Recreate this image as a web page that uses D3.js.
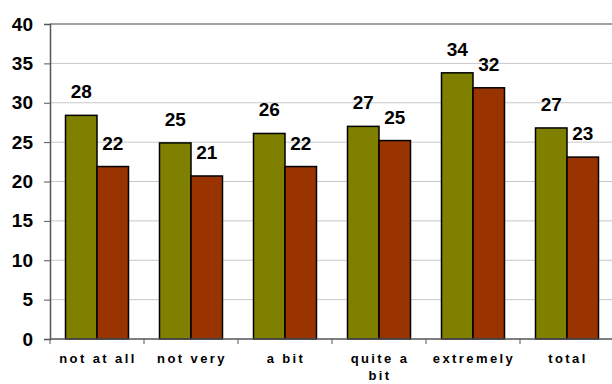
<!DOCTYPE html>
<html>
<head>
<meta charset="utf-8">
<script src="https://cdn.jsdelivr.net/npm/d3@7"></script>
<style>
  body { margin: 0; background: #fff; }
  text { font-family: Arial, "Liberation Sans", sans-serif; font-weight: bold; }
</style>
</head>
<body>
<script>
const categories = ["not at all", "not very", "a bit", "quite a bit", "extremely", "total"];
const seriesA = [28.4, 24.9, 26.1, 27.0, 33.8, 26.8];
const seriesB = [21.9, 20.7, 21.9, 25.2, 31.9, 23.1];
const labelsA = ["28", "25", "26", "27", "34", "27"];
const labelsB = ["22", "21", "22", "25", "32", "23"];
const yTicks = [0, 5, 10, 15, 20, 25, 30, 35, 40];

const margin = {top: 24, right: -2, bottom: 45, left: 50},
  width = 612 - margin.left - margin.right,
  height = 384 - margin.top - margin.bottom;

const svg = d3.select("body").append("svg")
  .attr("width", 612)
  .attr("height", 384);

const plot = svg.append("g")
  .attr("transform", `translate(${margin.left}, ${margin.top})`);

const x = d3.scaleBand().domain(categories).range([0, width]).paddingInner(0).paddingOuter(0);
const y = d3.scaleLinear().domain([0, 40]).range([height, 0]);
const barW = 31.5;

// gridlines
plot.selectAll(".grid")
  .data(yTicks.slice(1))
  .enter().append("line")
  .attr("x1", 0).attr("x2", width)
  .attr("y1", d => y(d)).attr("y2", d => y(d))
  .attr("stroke", d => d === 40 ? "#808080" : "#c8c8c8")
  .attr("stroke-width", d => d === 40 ? 1.5 : 1);

// y axis
const yAxis = plot.append("g")
  .call(d3.axisLeft(y).tickValues(yTicks).tickSize(6).tickPadding(11));
yAxis.select(".domain").attr("stroke", "#555").attr("stroke-width", 1.5);
yAxis.selectAll(".tick line").attr("stroke", "#555");
yAxis.selectAll("text").style("font-size", "19px").attr("fill", "#000");

// bars
const groups = plot.selectAll(".cat")
  .data(categories)
  .enter().append("g")
  .attr("transform", d => `translate(${x(d) + x.bandwidth() / 2}, 0)`);

groups.append("rect")
  .attr("x", -barW).attr("width", barW)
  .attr("y", (d, i) => y(seriesA[i]))
  .attr("height", (d, i) => height - y(seriesA[i]))
  .attr("fill", "#808000").attr("stroke", "#000").attr("stroke-width", 1.5);

groups.append("rect")
  .attr("x", 0).attr("width", barW)
  .attr("y", (d, i) => y(seriesB[i]))
  .attr("height", (d, i) => height - y(seriesB[i]))
  .attr("fill", "#993300").attr("stroke", "#000").attr("stroke-width", 1.5);

groups.append("text")
  .attr("x", -barW / 2)
  .attr("y", (d, i) => y(seriesA[i]) - 17)
  .attr("text-anchor", "middle")
  .style("font-size", "19px")
  .text((d, i) => labelsA[i]);

groups.append("text")
  .attr("x", barW / 2)
  .attr("y", (d, i) => y(seriesB[i]) - 17)
  .attr("text-anchor", "middle")
  .style("font-size", "19px")
  .text((d, i) => labelsB[i]);

// x axis
const xAxis = plot.append("g")
  .attr("transform", `translate(0, ${height})`);
xAxis.append("line")
  .attr("x1", 0).attr("x2", width)
  .attr("stroke", "#555").attr("stroke-width", 1.5);
xAxis.selectAll(".xt")
  .data(categories)
  .enter().append("line")
  .attr("x1", d => x(d)).attr("x2", d => x(d))
  .attr("y1", 0).attr("y2", 5)
  .attr("stroke", "#555");

const catLines = {"quite a bit": ["quite a", "bit"]};
xAxis.selectAll(".xl")
  .data(categories)
  .enter().append("text")
  .attr("y", 24)
  .attr("text-anchor", "middle")
  .style("font-size", "13px")
  .style("letter-spacing", "2.4px")
  .each(function(d) {
    const lines = catLines[d] || [d];
    d3.select(this).selectAll("tspan")
      .data(lines)
      .enter().append("tspan")
      .attr("x", x(d) + x.bandwidth() / 2 + 1)
      .attr("dy", (l, j) => j === 0 ? 0 : 17)
      .text(l => l);
  });
</script>
</body>
</html>
